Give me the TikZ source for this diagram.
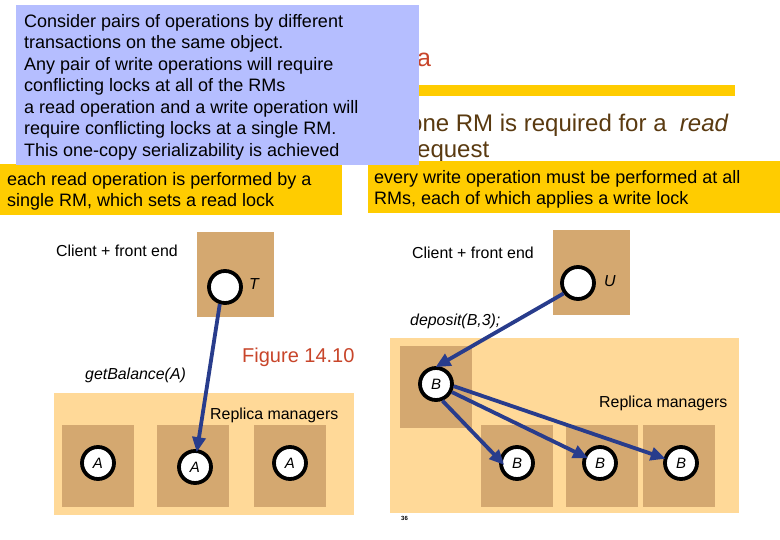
\documentclass[tikz,border=0pt]{standalone}
\usepackage{fontspec}
\setmainfont{Liberation Sans}
\usetikzlibrary{arrows.meta}
\definecolor{pale}{HTML}{FFD998}
\definecolor{tan}{HTML}{D4A870}
\definecolor{note}{HTML}{B5BEFF}
\definecolor{gold}{HTML}{FFCC00}
\definecolor{titlered}{HTML}{C8452A}
\definecolor{brownt}{HTML}{5A3A10}
\definecolor{arrowblue}{HTML}{283C8C}
\tikzset{
  x=1pt,y=-1pt,
  rect/.style args={#1/#2/#3}{fill=#1,draw=none,anchor=north west,inner sep=0pt,outer sep=0pt,minimum width=#2,minimum height=#3},
  rm/.style={rect={tan/72pt/82pt}},
  fe/.style={rect={tan/77pt/85pt}},
  obj/.style={circle,draw=black,fill=white,line width=3.8pt,minimum size=32pt,inner sep=0pt,font=\fontsize{15}{15}\selectfont\itshape},
  lbl/.style={anchor=west,inner sep=0pt,font=\fontsize{15.9}{17}\selectfont},
  ilbl/.style={anchor=west,inner sep=0pt,font=\fontsize{15.9}{17}\selectfont\itshape},
  note text/.style={anchor=north west,inner sep=0pt,align=left,font=\fontsize{18}{21.5}\selectfont},
  flow/.style={draw=arrowblue,line width=3.8pt,-{Triangle[length=15pt,width=13pt]}},
}
\begin{document}
\begin{tikzpicture}
\useasboundingbox (0,0) rectangle (780,540);
\fill[white] (0,0) rectangle (780,540);
% slide title, bar and bullet behind the note
\node[anchor=west,inner sep=0pt,font=\fontsize{25}{25}\selectfont,text=titlered] (title) at (417,60) {a};
\node[rect={gold/330pt/11pt}] (bar) at (405,85) {};
\node[anchor=west,inner sep=0pt,font=\fontsize{24}{24}\selectfont,text=brownt] (b1) at (409,125) {one RM is required for a \ \textit{read}};
\node[anchor=west,inner sep=0pt,font=\fontsize{24}{24}\selectfont,text=brownt] (b2) at (409,152) {request};
% callouts
\node[rect={gold/342pt/51pt}] (ol) at (0,164) {};
\node[rect={gold/412pt/52pt}] (or) at (368,161) {};
\node[rect={note/403pt/160pt}] (nt) at (16,5) {};
\node[note text] (ntt) at (24,14) {Consider pairs of operations by different\\transactions on the same object.\\Any pair of write operations will require\\conflicting locks at all of the RMs\\a read operation and a write operation will\\require conflicting locks at a single RM.\\This one-copy serializability is achieved};
\node[note text] (olt) at (7,172) {each read operation is performed by a\\single RM, which sets a read lock};
\node[note text] (ort) at (374,170) {every write operation must be performed at all\\RMs, each of which applies a write lock};
% left diagram
\node[fe] (tbox) at (197,232) {};
\node[rect={pale/300pt/122pt}] (lpale) at (54,393) {};
\node[rm] (la) at (62,425) {};
\node[rm] (lb) at (157,425) {};
\node[rm] (lc) at (254,425) {};
\node[obj] (t) at (225,287) {};
\node[obj] (a1) at (98,463) {A};
\node[obj] (a2) at (195,467) {A};
\node[obj] (a3) at (290,463) {A};
\node[lbl] (cl) at (56,251) {Client + front end};
\node[ilbl] (tl) at (249,284) {T};
\node[ilbl] (gb) at (85,375.5) {getBalance(A)};
\node[lbl] (rl) at (210,415.5) {Replica managers};
\node[anchor=west,inner sep=0pt,font=\fontsize{20}{20}\selectfont,text=titlered] (fig) at (242,357.5) {Figure 14.10};
\draw[flow,shorten >=-3pt] (t.-107) -- (a2.83);
% right diagram
\node[fe] (ubox) at (553,230) {};
\node[rect={pale/349pt/175pt}] (rpale) at (390,338) {};
\node[rm] (bb) at (400,346) {};
\node[rm] (r1) at (481,425) {};
\node[rm] (r2) at (566,425) {};
\node[rm] (r3) at (643,425) {};
\node[obj] (u) at (578,283) {};
\node[obj] (b0) at (436,384) {B};
\node[obj] (b1c) at (517,463) {B};
\node[obj] (b2c) at (600,463) {B};
\node[obj] (b3c) at (681,463) {B};
\node[lbl] (cr) at (412,253) {Client + front end};
\node[ilbl] (ul) at (604,281) {U};
\node[ilbl] (dp) at (410,321.5) {deposit(B,3);};
\node[lbl] (rr) at (599,403.5) {Replica managers};
\node[anchor=west,inner sep=0pt,font=\fontsize{6}{6}\selectfont\bfseries] (pg) at (401,518) {36};
\draw[flow,shorten >=-2pt] (u.-144) -- (b0.86);
\draw[flow,shorten >=-7pt] (b0.-69) -- (b1c.170);
\draw[flow,shorten >=-5pt] (b0.-27) -- (b2c.157);
\draw[flow,shorten >=-2pt] (b0.-7) -- (b3c.164);
\end{tikzpicture}
\end{document}
